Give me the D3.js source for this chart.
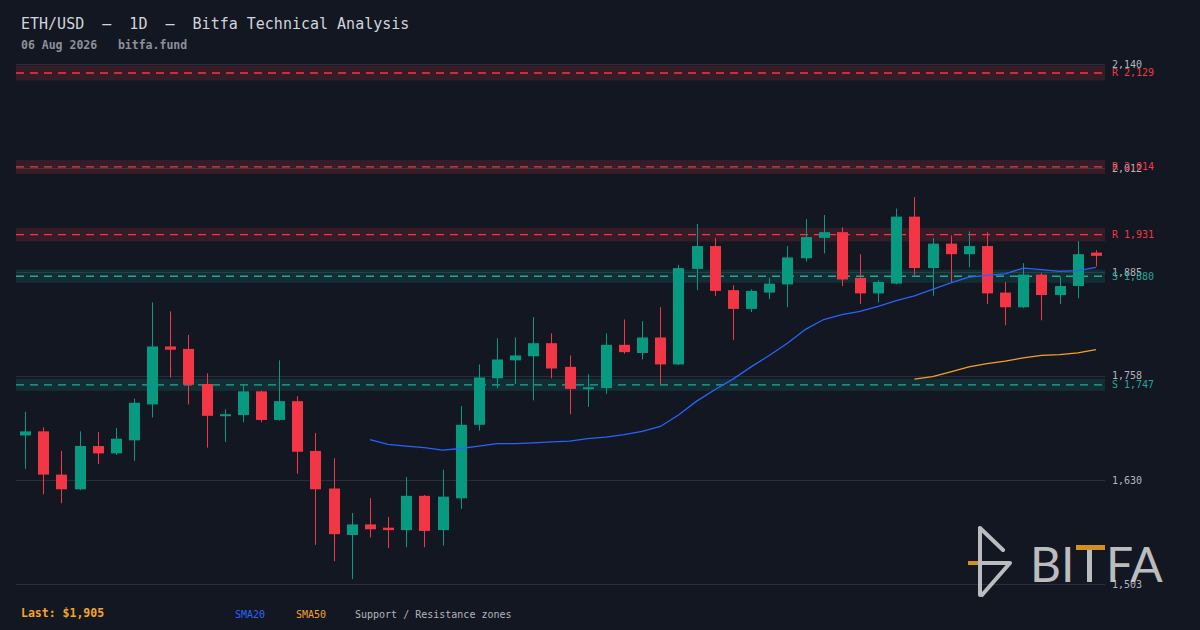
<!DOCTYPE html>
<html>
<head>
<meta charset="utf-8">
<script src="https://cdn.jsdelivr.net/npm/d3@7"></script>
<style>
  html, body { margin: 0; padding: 0; background: #131722; }
  svg { display: block; }
  text { font-family: "DejaVu Sans Mono", monospace; }
</style>
</head>
<body>
<div id="chart"></div>
<script>
// ETH/USD daily candles
const opens  = [1685,1690,1637,1619,1672,1663,1679,1723,1794,1791, 1748,1709,1710,1739,1704,1727,1666,1620,1563,1576,
                1572,1569,1611,1569,1608,1698,1755,1777,1782,1798, 1769,1742,1743,1796,1786,1805,1772,1889,1917,1863,
                1840,1860,1870,1902,1927,1934,1878,1859,1871,1953, 1890,1920,1907,1917,1860,1842,1882,1857,1868,1909];
const highs  = [1714,1695,1666,1690,1689,1694,1730,1848,1837,1808, 1761,1717,1748,1740,1777,1733,1688,1657,1590,1608,
                1585,1634,1612,1643,1721,1772,1804,1805,1830,1810, 1783,1760,1810,1827,1825,1842,1894,1944,1927,1869,
                1864,1878,1917,1950,1955,1940,1907,1875,1963,1977, 1927,1930,1935,1934,1873,1896,1884,1880,1923,1912];
const lows   = [1644,1613,1602,1618,1650,1661,1654,1707,1756,1723, 1670,1677,1701,1701,1703,1638,1551,1531,1509,1560,
                1547,1548,1548,1550,1595,1691,1743,1748,1728,1755, 1711,1720,1736,1785,1778,1748,1771,1863,1856,1802,
                1836,1852,1842,1898,1908,1868,1846,1848,1870,1881, 1856,1873,1891,1846,1820,1841,1826,1846,1853,1892];
const closes = [1690,1637,1619,1672,1663,1681,1725,1794,1790,1747, 1709,1711,1739,1704,1727,1665,1619,1564,1576,1570,
                1569,1611,1568,1610,1698,1756,1778,1783,1798,1767, 1742,1744,1796,1787,1805,1772,1890,1917,1862,1840,
                1862,1871,1903,1928,1934,1876,1859,1873,1953,1890, 1920,1907,1917,1859,1842,1882,1857,1868,1907,1905];

// moving averages as drawn (null = not yet defined)
const sma20 = [null,null,null,null,null,null,null,null,null,null, null,null,null,null,null,null,null,null,null,1680,
               1674,1672,1670,1667,1669,1672,1675,1675,1676,1677, 1678,1681,1683,1686,1690,1696,1710,1727,1741,1754,
               1769,1783,1798,1815,1827,1833,1837,1843,1850,1856, 1864,1872,1879,1881,1883,1890,1888,1886,1887,1891];
const sma50 = [null,null,null,null,null,null,null,null,null,null, null,null,null,null,null,null,null,null,null,null,
               null,null,null,null,null,null,null,null,null,null, null,null,null,null,null,null,null,null,null,null,
               null,null,null,null,null,null,null,null,null,1754, 1757,1763,1769,1773,1776,1780,1783,1784,1786,1790];

// support / resistance zones
const zoneLevels = [2129, 2014, 1931, 1880, 1747];
const zoneTypes  = ["R", "R", "R", "S", "S"];

// price axis
const tickValues = [1503, 1630, 1758, 1885, 2012, 2140];
const tickLabels = ["1,503", "1,630", "1,758", "1,885", "2,012", "2,140"];

const W = 1200, H = 630;
const UP = "#089981", DOWN = "#f23645";
const ZONE_PCT = 0.0043;

const svg = d3.select("#chart").append("svg")
    .attr("width", W)
    .attr("height", H);

svg.append("rect").attr("width", W).attr("height", H).attr("fill", "#131722");

const idx = d3.range(closes.length);
const x = d3.scaleBand().domain(idx).range([16, 1105]).paddingInner(0.39).paddingOuter(0.195);
const y = d3.scaleLinear().domain([1503, 2140]).range([584, 64]);
const cx = i => x(i) + x.bandwidth() / 2;

// grid
svg.append("g").selectAll("line").data(tickValues).join("line")
    .attr("x1", 16).attr("x2", 1105)
    .attr("y1", d => Math.round(y(d)) + 0.5).attr("y2", d => Math.round(y(d)) + 0.5)
    .attr("stroke", "#2a2e39").attr("stroke-width", 1);

// zones
const zones = svg.append("g");
zones.selectAll("rect").data(zoneLevels).join("rect")
    .attr("x", 16).attr("width", 1089)
    .attr("y", d => y(d * (1 + ZONE_PCT)))
    .attr("height", d => y(d * (1 - ZONE_PCT)) - y(d * (1 + ZONE_PCT)))
    .attr("fill", (d, i) => zoneTypes[i] === "R" ? "rgba(242,54,69,0.16)" : "rgba(20,160,140,0.16)");
zones.selectAll("line").data(zoneLevels).join("line")
    .attr("x1", 16).attr("x2", 1105)
    .attr("y1", d => y(d)).attr("y2", d => y(d))
    .attr("stroke", (d, i) => zoneTypes[i] === "R" ? DOWN : "#26a69a")
    .attr("stroke-width", 1.3)
    .attr("stroke-dasharray", "8,6");

// axis labels
svg.append("g").selectAll("text").data(tickValues).join("text")
    .attr("x", 1112).attr("y", d => y(d))
    .attr("dy", "0.35em")
    .attr("fill", "#b2b5be")
    .style("font-size", "10px")
    .text((d, i) => tickLabels[i]);

svg.append("g").selectAll("text").data(zoneLevels).join("text")
    .attr("x", 1112).attr("y", d => y(d))
    .attr("dy", "0.35em")
    .attr("fill", (d, i) => zoneTypes[i] === "R" ? DOWN : "#26a69a")
    .style("font-size", "10px")
    .text((d, i) => zoneTypes[i] + " " + d3.format(",")(d));

// candles
const candles = svg.append("g").selectAll("g").data(idx).join("g");
candles.append("line")
    .attr("x1", i => Math.round(cx(i)) + 0.5).attr("x2", i => Math.round(cx(i)) + 0.5)
    .attr("y1", i => y(highs[i])).attr("y2", i => y(lows[i]))
    .attr("stroke", i => closes[i] >= opens[i] ? UP : DOWN)
    .attr("stroke-width", 1);
candles.append("rect")
    .attr("x", i => Math.round(cx(i)) + 0.5 - 5.5)
    .attr("width", 11)
    .attr("y", i => y(Math.max(opens[i], closes[i])))
    .attr("height", i => Math.max(2, Math.abs(y(opens[i]) - y(closes[i]))))
    .attr("fill", i => closes[i] >= opens[i] ? UP : DOWN);

// moving averages
function drawLine(values, color) {
    svg.append("path")
        .datum(idx.filter(i => values[i] != null))
        .attr("fill", "none")
        .attr("stroke", color)
        .attr("stroke-width", 1.3)
        .attr("d", d3.line().x(i => cx(i)).y(i => y(values[i])));
}
drawLine(sma20, "#2962ff");
drawLine(sma50, "#f5a02a");

// title
svg.append("text")
    .attr("x", 21).attr("y", 29)
    .attr("fill", "#d1d4dc")
    .style("font-size", "15px")
    .style("white-space", "pre")
    .text("ETH/USD  \u2014  1D  \u2014  Bitfa Technical Analysis");

svg.append("text")
    .attr("x", 21).attr("y", 49)
    .attr("fill", "#8c9099")
    .style("font-size", "11.5px")
    .style("font-weight", "bold")
    .style("white-space", "pre")
    .text("06 Aug 2026   bitfa.fund");

// footer legend
svg.append("text")
    .attr("x", 21).attr("y", 617)
    .attr("fill", "#f5a623")
    .style("font-size", "11.5px")
    .style("font-weight", "bold")
    .text("Last: $" + d3.format(",")(closes[closes.length - 1]));

svg.append("text").attr("x", 235).attr("y", 618)
    .attr("fill", "#2962ff").style("font-size", "10px").text("SMA20");
svg.append("text").attr("x", 296).attr("y", 618)
    .attr("fill", "#f5a02a").style("font-size", "10px").text("SMA50");
svg.append("text").attr("x", 355).attr("y", 618)
    .attr("fill", "#b2b5be").style("font-size", "10px").text("Support / Resistance zones");

// logo
const logo = svg.append("g").attr("opacity", 0.85);
logo.append("path")
    .attr("d", "M980,528 L980,595 M980,528 L1003,550 M980,563 L1010,563 L982,595")
    .attr("fill", "none").attr("stroke", "#d9d9d9").attr("stroke-width", 4)
    .attr("stroke-linecap", "round").attr("stroke-linejoin", "round");
logo.append("line").attr("x1", 968).attr("x2", 978).attr("y1", 563).attr("y2", 563)
    .attr("stroke", "#f5a623").attr("stroke-width", 4);
logo.append("text").attr("x", 1030).attr("y", 582)
    .attr("fill", "#d9d9d9").style("font-family", "Lato, sans-serif").style("font-size", "48px")
    .text("BI");
logo.append("rect").attr("x", 1087).attr("y", 550).attr("width", 5).attr("height", 32).attr("fill", "#d9d9d9");
logo.append("rect").attr("x", 1076).attr("y", 545).attr("width", 29).attr("height", 5).attr("fill", "#f5a623");
logo.append("text").attr("x", 1106).attr("y", 582)
    .attr("fill", "#d9d9d9").style("font-family", "Lato, sans-serif").style("font-size", "48px")
    .text("FA");
</script>
</body>
</html>
